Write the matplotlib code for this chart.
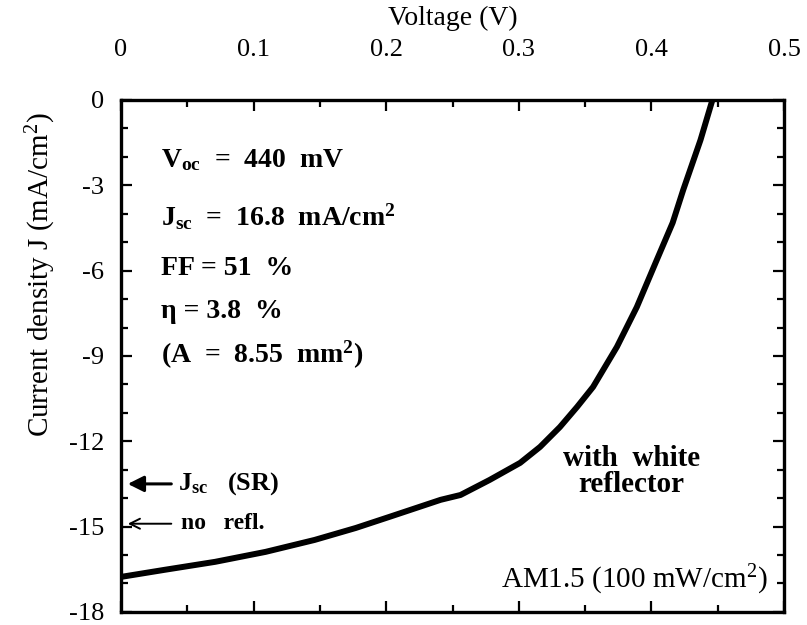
import numpy as np
import matplotlib
matplotlib.use('Agg')
import matplotlib.pyplot as plt
from matplotlib.ticker import MultipleLocator

plt.rcParams['font.family'] = 'Liberation Serif'
plt.rcParams['mathtext.default'] = 'regular'
plt.rcParams['axes.unicode_minus'] = False

# J-V curve
voltage = [0, 0.033, 0.071, 0.109, 0.146, 0.177, 0.203, 0.241, 0.256, 0.278, 0.301,
           0.316, 0.331, 0.344, 0.356, 0.374, 0.389, 0.404, 0.416, 0.424, 0.437, 0.446]
current = [-16.77, -16.52, -16.24, -15.89, -15.47, -15.05, -14.65, -14.06, -13.89, -13.36, -12.76,
           -12.2, -11.5, -10.79, -10.09, -8.68, -7.28, -5.63, -4.32, -3.16, -1.41, 0]

x_ticks = [0, 0.1, 0.2, 0.3, 0.4, 0.5]
x_labels = ['0', '0.1', '0.2', '0.3', '0.4', '0.5']
y_ticks = [0, -3, -6, -9, -12, -15, -18]

jsc_sr = -13.5
jsc_norefl = -14.9

fig = plt.figure(figsize=(8.07, 6.25), dpi=100)
ax = fig.add_axes([0.150, 0.021, 0.8215, 0.819])

ax.plot(voltage, current, c='k', lw=4.3, solid_capstyle='round', solid_joinstyle='round')

ax.set_xlim(0, 0.5)
ax.set_ylim(-18, 0)
ax.xaxis.tick_top()
ax.xaxis.set_label_position('top')
ax.set_xticks(x_ticks)
ax.set_xticklabels(x_labels)
ax.set_yticks(y_ticks)
ax.xaxis.set_minor_locator(MultipleLocator(0.05))
ax.yaxis.set_minor_locator(MultipleLocator(1))
ax.tick_params(which='both', direction='in', top=True, bottom=True, left=True, right=True,
               labelsize=19, width=1.6)
ax.tick_params(which='major', length=8)
ax.tick_params(which='minor', length=5)
ax.tick_params(axis='x', pad=28)
ax.tick_params(axis='y', pad=12)
for s in ax.spines.values():
    s.set_linewidth(2.4)

ax.set_xlabel('Voltage (V)', fontsize=20, labelpad=10)
ax.set_ylabel('Current density J (mA/cm$^2$)', fontsize=21)
ax.yaxis.set_label_coords(-0.095, 0.66)

bold = dict(fontsize=20, fontweight='bold', transform=ax.transAxes, va='baseline')
ax.text(0.06, 0.868, 'V$_{oc}$  =  440  mV', **bold)
ax.text(0.06, 0.755, 'J$_{sc}$  =  16.8  mA/cm$^2$', **bold)
ax.text(0.06, 0.658, 'FF = 51  %', **bold)
ax.text(0.06, 0.575, 'η = 3.8  %', **bold)
ax.text(0.06, 0.487, '(A  =  8.55  mm$^2$)', **bold)

ax.text(0.77, 0.275, 'with  white\nreflector', fontsize=21, fontweight='bold',
        ha='center', va='center', transform=ax.transAxes, linespacing=0.95)
ax.text(0.975, 0.062, 'AM1.5 (100 mW/cm$^2$)', fontsize=21, ha='right', va='center',
        transform=ax.transAxes)

# arrows at the left axis
ax.annotate('', xy=(0.003, jsc_sr), xytext=(0.04, jsc_sr),
            arrowprops=dict(arrowstyle='-|>', lw=2.2, color='k', mutation_scale=24))
ax.text(0.043, jsc_sr, 'J$_{sc}$   (SR)', fontsize=19, fontweight='bold', va='center')
ax.annotate('', xy=(0.003, jsc_norefl), xytext=(0.04, jsc_norefl),
            arrowprops=dict(arrowstyle='->', lw=1.4, color='k', mutation_scale=18))
ax.text(0.045, jsc_norefl, 'no   refl.', fontsize=17, fontweight='bold', va='center')

fig.savefig('out.png', dpi=100)
